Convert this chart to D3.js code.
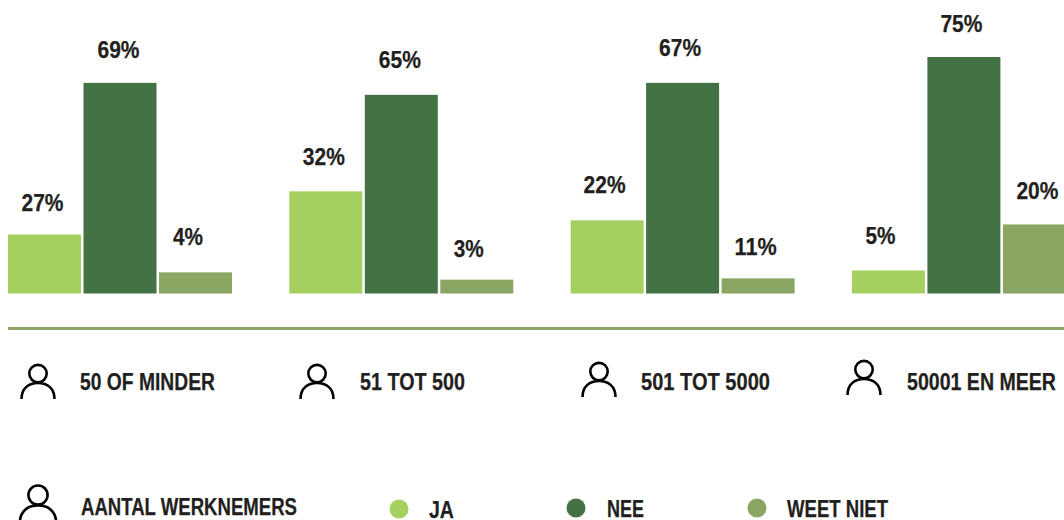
<!DOCTYPE html>
<html><head><meta charset="utf-8">
<script src="https://cdn.jsdelivr.net/npm/d3@7"></script>
<style>
html,body{margin:0;padding:0;background:#fff}
svg{display:block}
text{font-family:"Liberation Sans",sans-serif;font-weight:700;fill:#231f20;stroke:#231f20;stroke-width:.25}
</style></head><body>
<svg id="c" width="1064" height="520"></svg>
<script>
const groups = ["50 OF MINDER","51 TOT 500","501 TOT 5000","50001 EN MEER"];
const seriesNames = ["JA","NEE","WEET NIET"];
const colors = ["#a5cf5f","#437345","#8aa662"];
// printed labels
const labelJa = [27,32,22,5];
const labelNee = [69,65,67,75];
const labelWeet = [4,3,11,20];
// bar lengths as drawn in the picture (they differ from the printed labels)
const barJa = [18.7,32.4,23.2,7.3];
const barNee = [66.8,63,66.8,75];
const barWeet = [6.7,4.4,4.8,21.9];
const axisTitle = "AANTAL WERKNEMERS";

const svg = d3.select("#c");
const x0 = d3.scaleBand().domain(groups).range([8,8+4*281.3]);
const x1 = d3.scaleBand().domain(seriesNames).range([0,224]).paddingInner(0.033).paddingOuter(0);
const y = d3.scaleLinear().domain([0,75]).range([293.5,57]);

function person(g,cx,top,s){
  const sw=2.6;
  g.append("circle").attr("cx",cx).attr("cy",top+9.6*s).attr("r",8.7*s).attr("fill","none").attr("stroke","#000").attr("stroke-width",sw);
  g.append("path").attr("d",`M${cx-16.5*s},${top+35*s}C${cx-16.5*s},${top+24*s} ${cx-9*s},${top+19*s} ${cx},${top+19*s}C${cx+9*s},${top+19*s} ${cx+16.5*s},${top+24*s} ${cx+16.5*s},${top+35*s}`).attr("fill","none").attr("stroke","#000").attr("stroke-width",sw);
}
function label(x,yy,str,w,size,anchor){
  return svg.append("text").attr("x",x).attr("y",yy).attr("font-size",size)
    .attr("text-anchor",anchor||"start").attr("textLength",w).attr("lengthAdjust","spacingAndGlyphs").text(str);
}

const bars=[barJa,barNee,barWeet], labels=[labelJa,labelNee,labelWeet];
// label placement relative to the centre and top of each bar
const labelDx=[[-2,-2,-2.5,-8],[-1.5,-1.5,-2.5,-2.5],[-7.5,-8,-2.5,-2]];
const labelGap=[[24,26,27,26],[25,27,27,25],[27,23,23,25]];
groups.forEach((g,i)=>{
  seriesNames.forEach((s,j)=>{
    const v=bars[j][i], bx=x0(g)+x1(s);
    svg.append("rect").attr("x",bx).attr("y",y(v)).attr("width",x1.bandwidth()).attr("height",y(0)-y(v)).attr("fill",colors[j]);
    const t=labels[j][i]+"%";
    label(bx+x1.bandwidth()/2+labelDx[j][i],y(v)-labelGap[j][i],t,t.length>2?42:30,23.5,"middle");
  });
});
svg.append("rect").attr("x",8).attr("y",327).attr("width",1056).attr("height",3).attr("fill",colors[2]);

const iconX=[38,317,599,864], iconTop=[364,364,362,360], labelX=[80,360,641,907], labelW=[135,105,129,149];
groups.forEach((g,i)=>{
  person(svg,iconX[i],iconTop[i],1);
  label(labelX[i],390,g,labelW[i],23.5);
});
person(svg,38,484.5,1.1);
label(81,514.5,axisTitle,216,23.5);
const legX=[399,576,757], legTx=[429,607,787], legCy=[509,508,508], legW=[25,37,101], legY=[518,516.5,516.5];
seriesNames.forEach((s,j)=>{
  svg.append("circle").attr("cx",legX[j]).attr("cy",legCy[j]).attr("r",9.5).attr("fill",colors[j]);
  label(legTx[j],legY[j],s,legW[j],23.5);
});
</script></body></html>
